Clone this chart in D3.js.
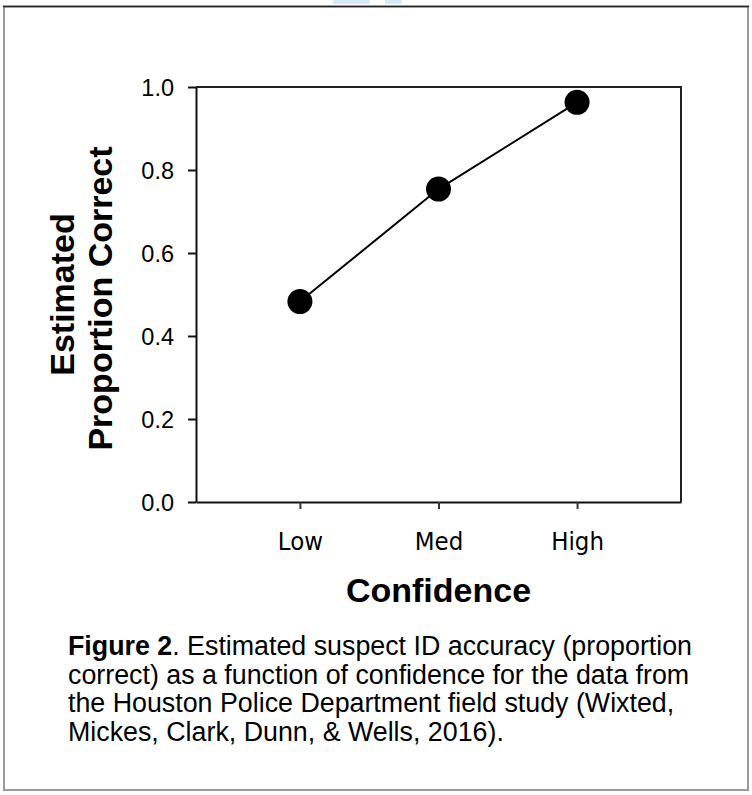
<!DOCTYPE html>
<html>
<head>
<meta charset="utf-8">
<script src="https://cdn.jsdelivr.net/npm/d3@7"></script>
<style>
  html, body { margin: 0; padding: 0; background: #fff; }
  svg { display: block; }
</style>
</head>
<body>
<svg id="chart" width="752" height="795"></svg>
<script>
// ---- data ----
const categories = ["Low", "Med", "High"];
const proportionCorrect = [0.483, 0.754, 0.963];
const yTicks = [0.0, 0.2, 0.4, 0.6, 0.8, 1.0];
const yTitleLines = ["Estimated", "Proportion Correct"];
const xTitle = "Confidence";
const captionLines = [
  [{t: "Figure 2", b: true}, {t: ". Estimated suspect ID accuracy (proportion", b: false}],
  [{t: "correct) as a function of confidence for the data from", b: false}],
  [{t: "the Houston Police Department field study (Wixted,", b: false}],
  [{t: "Mickes, Clark, Dunn, & Wells, 2016).", b: false}]
];

(function () {
const svg = d3.select("#chart");
svg.append("rect").attr("width", 752).attr("height", 795).attr("fill", "#fff");

// faint watermark shapes at top
svg.append("rect").attr("x", 333).attr("y", 0).attr("width", 37).attr("height", 4).attr("fill", "#d3ebfa");
svg.append("rect").attr("x", 385).attr("y", 0).attr("width", 17).attr("height", 4).attr("fill", "#d3ebfa");

// outer frame
svg.append("rect").attr("x", 4).attr("y", 6.5).attr("width", 744).attr("height", 783.5)
  .attr("fill", "none").attr("stroke", "#9a9a9a").attr("stroke-width", 2);
svg.append("line").attr("x1", 3).attr("x2", 749).attr("y1", 6.5).attr("y2", 6.5)
  .attr("stroke", "#222").attr("stroke-width", 1.5);

const pLeft = 196, pRight = 681, pTop = 87, pBottom = 502;
const x = d3.scalePoint().domain(categories).range([pLeft, pRight]).padding(0.75);
const y = d3.scaleLinear().domain([0, 1]).range([pBottom, pTop]);

// frame top/right
svg.append("path")
  .attr("d", `M${pLeft},${pTop}H${pRight}V${pBottom}`)
  .attr("fill", "none").attr("stroke", "#222").attr("stroke-width", 2);

// y axis
const gy = svg.append("g").attr("transform", `translate(${pLeft},0)`)
  .call(d3.axisLeft(y).tickValues(yTicks).tickFormat(d3.format(".1f")).tickSize(8).tickPadding(14).tickSizeOuter(0));
gy.select(".domain").attr("stroke", "#111").attr("stroke-width", 2);
gy.selectAll(".tick line").attr("stroke", "#111").attr("stroke-width", 2);
gy.selectAll(".tick text").attr("font-family", "Liberation Sans, Arial, sans-serif")
  .attr("font-size", 23.5).attr("fill", "#000").attr("dy", "0.38em");

// x axis
const gx = svg.append("g").attr("transform", `translate(0,${pBottom})`)
  .call(d3.axisBottom(x).tickSize(7).tickSizeOuter(0));
gx.select(".domain").attr("stroke", "#111").attr("stroke-width", 2);
gx.selectAll(".tick line").attr("stroke", "#333").attr("stroke-width", 2);
gx.selectAll(".tick text").attr("font-family", "'DejaVu Sans Condensed', 'DejaVu Sans', sans-serif")
  .attr("font-stretch", "condensed")
  .attr("font-size", 25.5).attr("fill", "#000").attr("y", 48).attr("dy", null);

// line + points
const pts = categories.map((c, i) => ({c, v: proportionCorrect[i]}));
svg.append("path").datum(pts)
  .attr("d", d3.line().x(d => x(d.c)).y(d => y(d.v)))
  .attr("fill", "none").attr("stroke", "#000").attr("stroke-width", 2);
svg.selectAll("circle.pt").data(pts).join("circle").attr("class", "pt")
  .attr("cx", d => x(d.c)).attr("cy", d => y(d.v)).attr("r", 12.5).attr("fill", "#000");

// y title
const yMid = (pTop + pBottom) / 2;
[74, 112].forEach((bx, i) => {
  svg.append("text")
    .attr("transform", `translate(${bx},${yMid + (i === 1 ? 4 : 0)}) rotate(-90)`)
    .attr("text-anchor", "middle")
    .attr("font-family", "Liberation Sans, Arial, sans-serif")
    .attr("font-weight", "bold").attr("font-size", 34).attr("fill", "#000")
    .text(yTitleLines[i]);
});

// x title
svg.append("text").attr("x", (pLeft + pRight) / 2).attr("y", 602)
  .attr("text-anchor", "middle")
  .attr("font-family", "Liberation Sans, Arial, sans-serif")
  .attr("font-weight", "bold").attr("font-size", 34).attr("fill", "#000")
  .text(xTitle);

// caption
const cap = svg.append("text").attr("font-family", "Liberation Sans, Arial, sans-serif")
  .attr("font-size", 26.8).attr("fill", "#000");
captionLines.forEach((line, i) => {
  line.forEach((seg, j) => {
    const ts = cap.append("tspan").text(seg.t).attr("font-weight", seg.b ? "bold" : "normal");
    if (j === 0) ts.attr("x", 68).attr("y", 655 + i * 28.5);
  });
});
})();
</script>
</body>
</html>
